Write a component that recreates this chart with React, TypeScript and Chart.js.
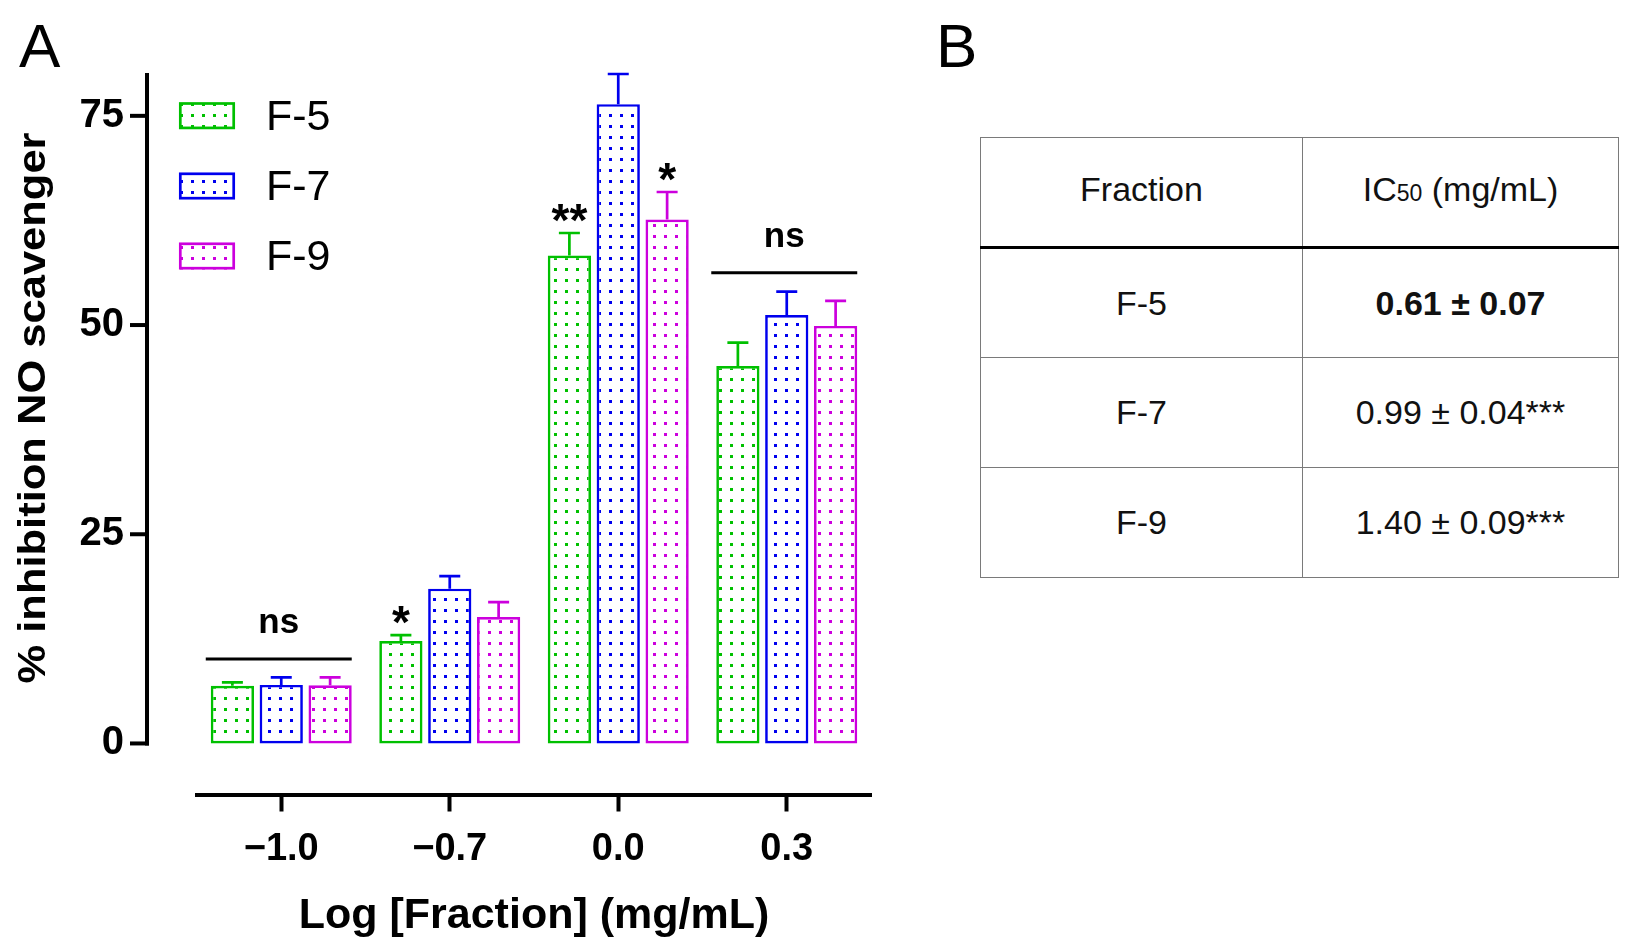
import React, { useEffect, useRef } from 'react';
import { Chart, registerables } from 'chart.js';

Chart.register(...registerables);

const FONT = '"Liberation Sans", Arial, sans-serif';

const categories = ['\u22121.0', '\u22120.7', '0.0', '0.3'];
const seriesNames = ['F-5', 'F-7', 'F-9'];
const seriesColors = ['#00c000', '#0000ee', '#cc00dd'];

const f5Values = [6.9, 12.25, 58.3, 45.1];
const f5Errors = [0.4, 0.7, 2.7, 2.8];
const f7Values = [7.0, 18.5, 76.4, 51.2];
const f7Errors = [0.9, 1.5, 3.6, 2.8];
const f9Values = [6.95, 15.1, 62.6, 49.9];
const f9Errors = [0.95, 1.8, 3.3, 3.0];

const f5Marks = ['', '*', '**', ''];
const f7Marks = ['', '', '', ''];
const f9Marks = ['', '', '*', ''];

const nsGroupIndex = [0, 3];
const nsLineValues = [10.1, 56.25];

const yTicks = [0, 25, 50, 75];
const yMin = -6.1;
const yMax = 80;

const xTitle = 'Log [Fraction] (mg/mL)';
const yTitle = '% inhibition NO scavenger';

const tableHeader = ['Fraction', 'IC50 (mg/mL)'];
const tableFractions = ['F-5', 'F-7', 'F-9'];
const tableIC50 = ['0.61 \u00b1 0.07', '0.99 \u00b1 0.04***', '1.40 \u00b1 0.09***'];
const tableBold = [true, false, false];

function makePattern(color: string): CanvasPattern | string {
  const c = document.createElement('canvas');
  c.width = 11;
  c.height = 11;
  const g = c.getContext('2d');
  if (!g) return '#fff';
  g.fillStyle = '#ffffff';
  g.fillRect(0, 0, 11, 11);
  g.fillStyle = color;
  g.fillRect(4, 4, 3, 3);
  const p = g.createPattern(c, 'repeat');
  return p || '#fff';
}

const valuesList = [f5Values, f7Values, f9Values];
const errorsList = [f5Errors, f7Errors, f9Errors];
const marksList = [f5Marks, f7Marks, f9Marks];

const overlayPlugin = {
  id: 'overlay',
  afterDraw(chart: any) {
    const ctx: CanvasRenderingContext2D = chart.ctx;
    const yScale = chart.scales.y;
    const area = chart.chartArea;
    ctx.save();

    // error bars + significance marks
    chart.data.datasets.forEach((ds: any, di: number) => {
      const meta = chart.getDatasetMeta(di);
      meta.data.forEach((bar: any, i: number) => {
        const p = bar.getProps(['x', 'y', 'width'], true);
        const v = valuesList[di][i];
        const e = errorsList[di][i];
        const capY = yScale.getPixelForValue(v + e);
        ctx.strokeStyle = seriesColors[di];
        ctx.lineWidth = 2.7;
        ctx.beginPath();
        ctx.moveTo(p.x, p.y);
        ctx.lineTo(p.x, capY);
        ctx.moveTo(p.x - 10.5, capY);
        ctx.lineTo(p.x + 10.5, capY);
        ctx.stroke();
        const m = marksList[di][i];
        if (m) {
          ctx.fillStyle = '#000';
          ctx.font = `bold 46px ${FONT}`;
          ctx.textAlign = 'center';
          ctx.textBaseline = 'alphabetic';
          ctx.fillText(m, p.x, capY + 3);
        }
      });
    });

    // ns lines
    nsGroupIndex.forEach((gi, k) => {
      const first = chart.getDatasetMeta(0).data[gi].getProps(['x', 'width'], true);
      const last = chart.getDatasetMeta(2).data[gi].getProps(['x', 'width'], true);
      const x0 = first.x - first.width / 2 - 5;
      const x1 = last.x + last.width / 2;
      const ly = yScale.getPixelForValue(nsLineValues[k]);
      ctx.strokeStyle = '#000';
      ctx.lineWidth = 3;
      ctx.beginPath();
      ctx.moveTo(x0, ly);
      ctx.lineTo(x1, ly);
      ctx.stroke();
      ctx.fillStyle = '#000';
      ctx.font = `bold 35px ${FONT}`;
      ctx.textAlign = 'center';
      ctx.textBaseline = 'alphabetic';
      ctx.fillText('ns', (x0 + x1) / 2, ly - 26);
    });

    // y axis line and ticks (offset axis)
    const ax = area.left - 50;
    ctx.strokeStyle = '#000';
    ctx.lineWidth = 4;
    ctx.beginPath();
    ctx.moveTo(ax, area.top - 1);
    ctx.lineTo(ax, yScale.getPixelForValue(0) + 2);
    ctx.stroke();
    yTicks.forEach((t) => {
      const py = yScale.getPixelForValue(t);
      ctx.beginPath();
      ctx.moveTo(ax - 17, py);
      ctx.lineTo(ax + 2, py);
      ctx.stroke();
    });

    // y title
    ctx.save();
    ctx.translate(35, 408);
    ctx.rotate(-Math.PI / 2);
    ctx.font = `bold 38px ${FONT}`;
    const w = ctx.measureText(yTitle).width;
    ctx.scale(551 / w, 1);
    ctx.fillStyle = '#000';
    ctx.textAlign = 'center';
    ctx.textBaseline = 'middle';
    ctx.fillText(yTitle, 0, 0);
    ctx.restore();

    // legend
    const legendCenters = [115.7, 186, 256];
    chart.data.datasets.forEach((ds: any, di: number) => {
      const cy = legendCenters[di];
      ctx.fillStyle = ds.backgroundColor;
      ctx.fillRect(179, cy - 13.5, 56, 27);
      ctx.strokeStyle = seriesColors[di];
      ctx.lineWidth = 2.7;
      ctx.strokeRect(180.3, cy - 12.2, 53.4, 24.4);
      ctx.fillStyle = '#000';
      ctx.font = `43px ${FONT}`;
      ctx.textAlign = 'left';
      ctx.textBaseline = 'middle';
      ctx.fillText(ds.label, 266, cy + 2);
    });

    ctx.restore();
  },
};

function BarChart() {
  const ref = useRef<HTMLCanvasElement | null>(null);
  useEffect(() => {
    if (!ref.current) return;
    const datasets = seriesNames.map((name, di) => ({
      label: name,
      data: valuesList[di],
      backgroundColor: makePattern(seriesColors[di]),
      borderColor: seriesColors[di],
      borderWidth: 2.7,
      borderSkipped: false,
      categoryPercentage: 0.87,
      barPercentage: 0.885,
    }));
    const chart = new Chart(ref.current, {
      type: 'bar',
      data: { labels: categories, datasets },
      options: {
        animation: false,
        responsive: false,
        layout: { padding: { left: 0, right: 59, top: 74, bottom: 0 } },
        plugins: { legend: { display: false }, tooltip: { enabled: false } },
        scales: {
          x: {
            type: 'category',
            offset: true,
            grid: {
              display: true,
              drawOnChartArea: false,
              offset: false,
              tickLength: 17,
              tickWidth: 4,
              tickColor: '#000',
              color: '#000',
            },
            border: { display: true, color: '#000', width: 4 },
            ticks: { color: '#000', font: { family: FONT, size: 38, weight: 'bold' }, padding: 15 },
            title: {
              display: true,
              text: xTitle,
              color: '#000',
              font: { family: FONT, size: 43, weight: 'bold' },
              padding: { top: 0, bottom: 10 },
            },
            afterFit: (s: any) => {
              s.height = 157.5;
            },
          },
          y: {
            min: yMin,
            max: yMax,
            afterBuildTicks: (s: any) => {
              s.ticks = yTicks.map((v) => ({ value: v }));
            },
            grid: { display: false, drawTicks: true, tickLength: 73 },
            border: { display: false },
            ticks: { color: '#000', font: { family: FONT, size: 40, weight: 'bold' }, padding: 0 },
            afterFit: (s: any) => {
              s.width = 197;
            },
          },
        },
      } as any,
      plugins: [overlayPlugin],
    });
    return () => chart.destroy();
  }, []);
  return (
    <canvas
      ref={ref}
      width={930}
      height={952}
      style={{ position: 'absolute', left: 0, top: 0, width: 930, height: 952 }}
    />
  );
}

export default function App() {
  const cellBase: React.CSSProperties = {
    border: '1.5px solid #7a7a7a',
    textAlign: 'center',
    verticalAlign: 'middle',
    padding: 0,
    fontSize: 34,
    color: '#111',
  };
  return (
    <div
      style={{
        position: 'absolute',
        left: 0,
        top: 0,
        width: 1635,
        height: 952,
        background: '#fff',
        fontFamily: FONT,
        overflow: 'hidden',
      }}
    >
      <BarChart />
      <div style={{ position: 'absolute', left: 19, top: 15, fontSize: 62, lineHeight: 1 }}>A</div>
      <div style={{ position: 'absolute', left: 936, top: 15, fontSize: 62, lineHeight: 1 }}>B</div>
      <table
        style={{
          position: 'absolute',
          left: 980,
          top: 137,
          width: 638,
          borderCollapse: 'collapse',
          tableLayout: 'fixed',
        }}
      >
        <colgroup>
          <col style={{ width: 322 }} />
          <col style={{ width: 316 }} />
        </colgroup>
        <thead>
          <tr style={{ height: 110 }}>
            <td style={{ ...cellBase, borderBottom: '3px solid #000', paddingBottom: 6 }}>{tableHeader[0]}</td>
            <td style={{ ...cellBase, borderBottom: '3px solid #000', paddingBottom: 6 }}>
              IC<span style={{ fontSize: 23 }}>{tableHeader[1].slice(2, 4)}</span>
              {tableHeader[1].slice(4)}
            </td>
          </tr>
        </thead>
        <tbody>
          {tableFractions.map((f, i) => (
            <tr key={f} style={{ height: 110 }}>
              <td style={cellBase}>{f}</td>
              <td style={{ ...cellBase, fontWeight: tableBold[i] ? 'bold' : 'normal' }}>{tableIC50[i]}</td>
            </tr>
          ))}
        </tbody>
      </table>
    </div>
  );
}
